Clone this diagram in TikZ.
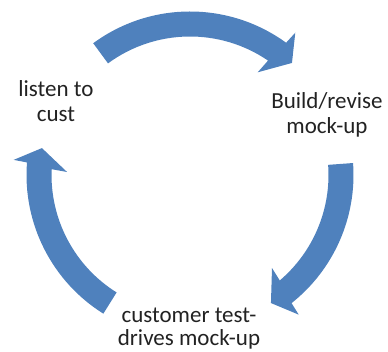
\documentclass[tikz,border=0pt]{standalone}
\usepackage{fontspec}
\setmainfont{Carlito}
\definecolor{cycleblue}{HTML}{4F81BD}
\definecolor{labelgray}{HTML}{222222}
\begin{document}
\begin{tikzpicture}[x=1pt,y=1pt,
  cyclearrow/.style={fill=cycleblue,draw=none},
  label/.style={text=labelgray,align=center,inner sep=0pt,
    font=\fontsize{23}{25}\selectfont}]
\useasboundingbox (0,0) rectangle (388,352);
\coordinate (c) at (190,177);
% three block-arc arrows running clockwise round the centre
\fill[cyclearrow,shift={(c)}] (126.3:163.5) arc[start angle=126.3,end angle=54,radius=163.5]
  -- (53.5:177) -- (47.7:151.5) -- (56.6:123) -- (55.7:138.5)
  arc[start angle=55.7,end angle=126.3,radius=138.5] -- cycle;
\fill[cyclearrow,shift={(c)}] (4.2:163.5) arc[start angle=4.2,end angle=-51.6,radius=163.5]
  -- (-52.1:177) -- (-57.7:151.5) -- (-48.6:124) -- (-49.6:138.5)
  arc[start angle=-49.6,end angle=4.2,radius=138.5] -- cycle;
\fill[cyclearrow,shift={(c)}] (238:163.5) arc[start angle=238,end angle=175.6,radius=163.5]
  -- (175.1:177) -- (169.7:150.5) -- (178.6:123) -- (177.6:138.5)
  arc[start angle=177.6,end angle=238,radius=138.5] -- cycle;
% step labels
\node[label] (listen) at (56,251) {listen to\\cust};
\node[label] (build) at (327,237) {Build/revise\\mock-up};
\node[label,font=\fontsize{23}{23}\selectfont] (test) at (189,23) {customer test-\\drives mock-up};
\end{tikzpicture}
\end{document}
